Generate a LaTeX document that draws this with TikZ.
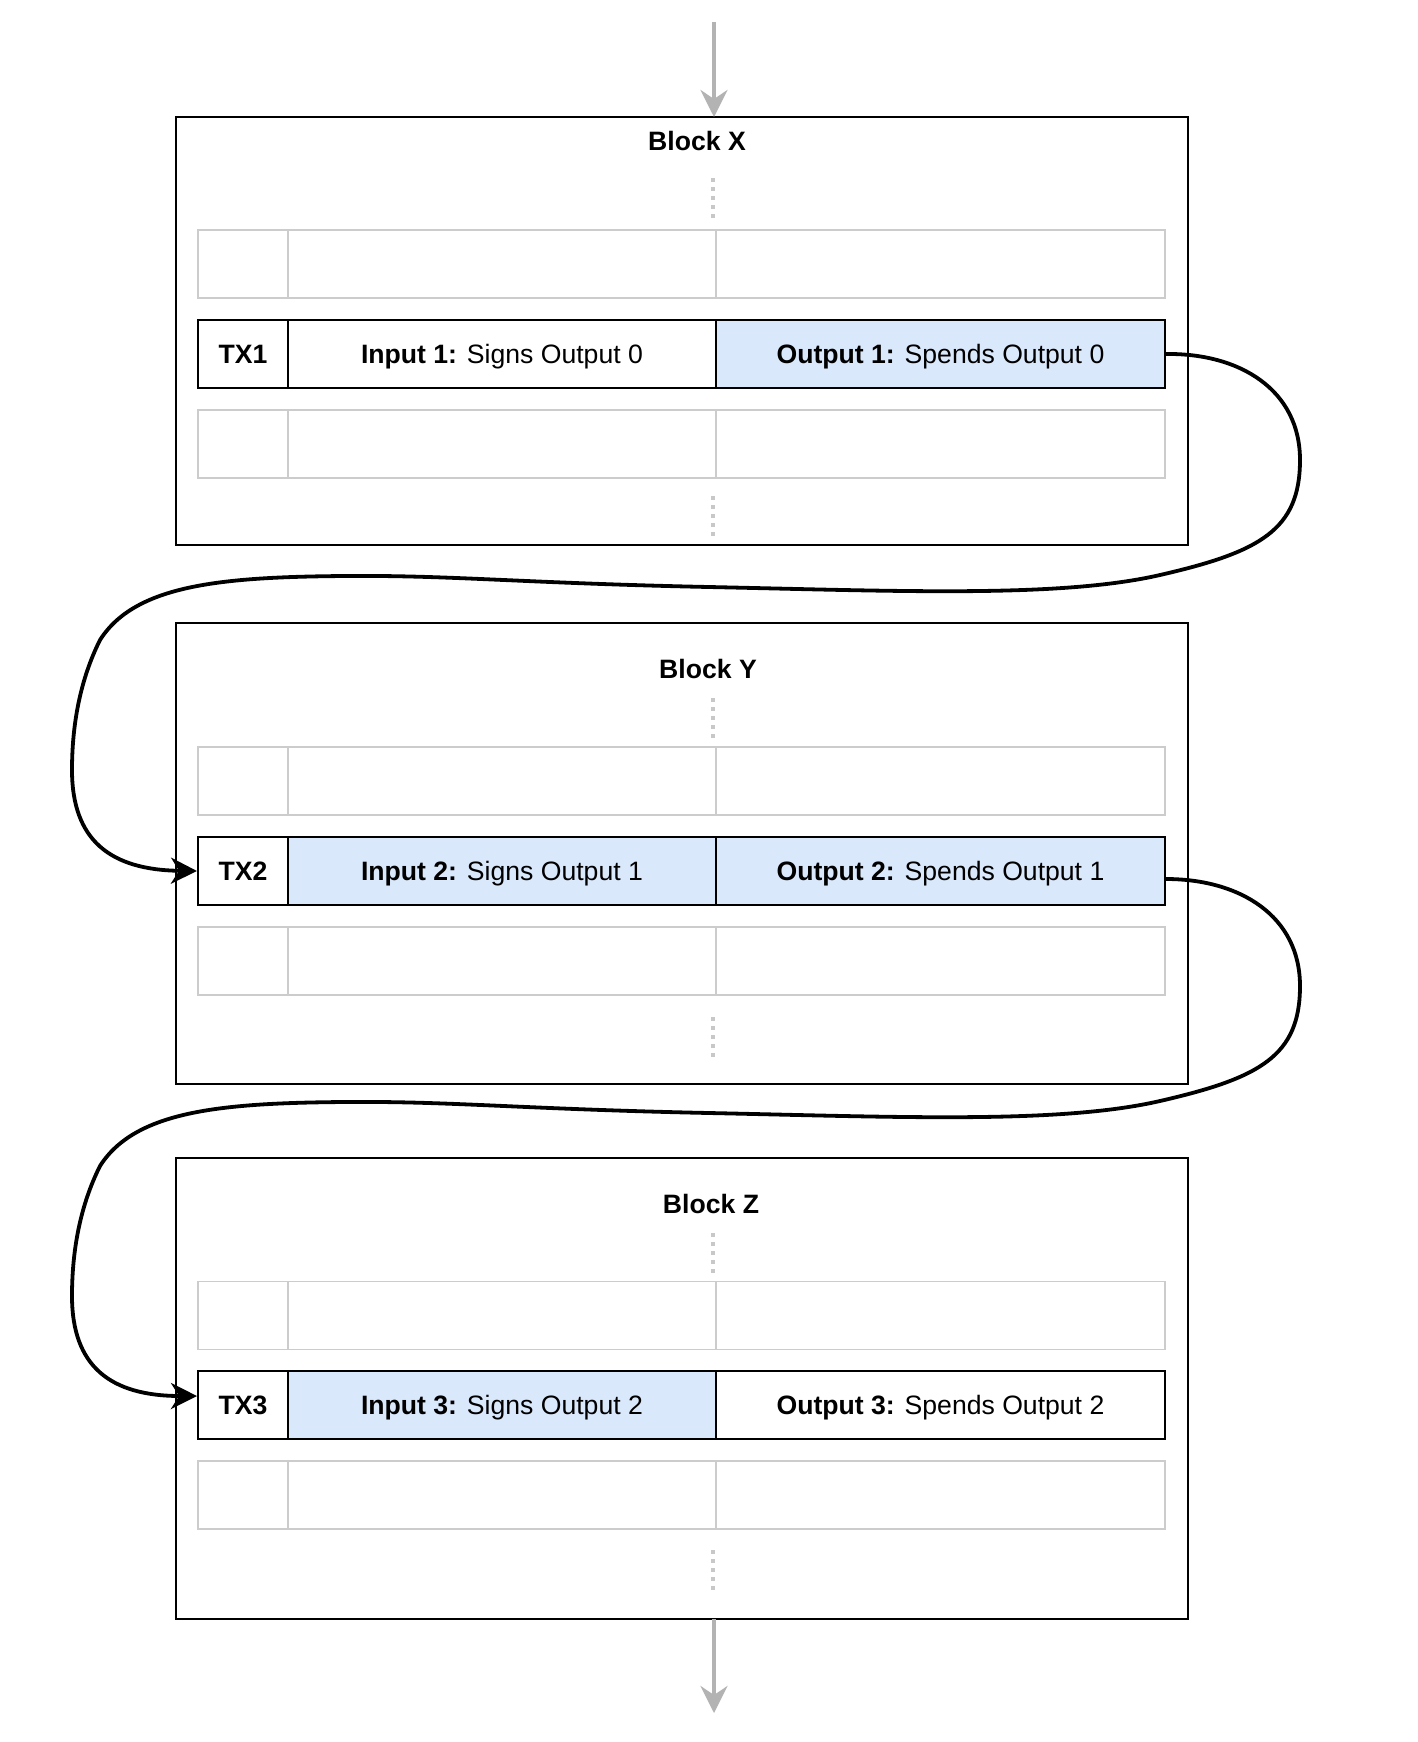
\documentclass[tikz,border=0pt]{standalone}
\usepackage{fontspec}
\setmainfont{Liberation Sans}
\usetikzlibrary{arrows.meta}
\definecolor{lblue}{HTML}{DAE8FC}
\definecolor{rowgray}{HTML}{CCCCCC}
\definecolor{arrgray}{HTML}{B3B3B3}
\definecolor{dotgray}{HTML}{C8C8C8}
\tikzset{
  blockbox/.style={draw=black, line width=1pt, fill=white, inner sep=0pt, minimum width=506pt},
  graycell/.style={draw=rowgray, line width=0.8pt, minimum height=34pt, inner sep=0pt},
  txcell/.style={draw=black, line width=1pt, minimum height=34pt, inner sep=0pt, fill=white,
    font=\fontsize{13.3}{16}\selectfont, text height=0.95em, text depth=0pt},
  titletext/.style={font=\fontsize{13.3}{16}\selectfont\bfseries, inner sep=0pt, text height=0.88em, text depth=0pt},
  dotline/.style={draw=dotgray, line width=2pt, dash pattern=on 2pt off 2.5pt},
  grayarrow/.style={draw=arrgray, line width=2pt, -{Stealth[length=13.5pt, width=13.5pt, inset=4.5pt]}},
  link/.style={draw=black, line width=1.9pt, -{Stealth[length=13pt, width=13pt, inset=4pt]}},
}
\newcommand\grayrow[2]{%
  \node[graycell, minimum width=45pt] (#1a) at (243,#2) {};
  \node[graycell, minimum width=214pt] (#1b) at (502,#2) {};
  \node[graycell, minimum width=224.5pt] (#1c) at (940.5,#2) {};}
\begin{document}
\begin{tikzpicture}[x=0.5pt, y=-0.5pt]
\fill[white] (0,0) rectangle (1418,1742);
\useasboundingbox (0,0) rectangle (1418,1742);

% ---------- Block X ----------
\node[blockbox, minimum height=214pt] (bx) at (682,331) {};
\node[titletext] (tx) at (697,142) {Block X};
\coordinate (dx1a) at (713,178); \coordinate (dx1b) at (713,218);
\draw[dotline] (dx1a) -- (dx1b);
\grayrow{xr1}{264}
\node[txcell, minimum width=45pt] (tx1) at (243,354) {\textbf{TX1}};
\node[txcell, minimum width=214pt] (in1) at (502,354) {\textbf{Input 1:} Signs Output 0};
\node[txcell, minimum width=224.5pt, fill=lblue] (o1) at (940.5,354) {\textbf{Output 1:} Spends Output 0};
\grayrow{xr3}{444}
\coordinate (dx2a) at (713,496); \coordinate (dx2b) at (713,536);
\draw[dotline] (dx2a) -- (dx2b);

% ---------- Block Y ----------
\node[blockbox, minimum height=230.5pt] (by) at (682,853.5) {};
\node[titletext] (ty) at (708,670) {Block Y};
\coordinate (dy1a) at (713,698); \coordinate (dy1b) at (713,738);
\draw[dotline] (dy1a) -- (dy1b);
\grayrow{yr1}{781}
\node[txcell, minimum width=45pt] (tx2) at (243,871) {\textbf{TX2}};
\node[txcell, minimum width=214pt, fill=lblue] (in2) at (502,871) {\textbf{Input 2:} Signs Output 1};
\node[txcell, minimum width=224.5pt, fill=lblue] (o2) at (940.5,871) {\textbf{Output 2:} Spends Output 1};
\grayrow{yr3}{961}
\coordinate (dy2a) at (713,1017); \coordinate (dy2b) at (713,1057);
\draw[dotline] (dy2a) -- (dy2b);

% ---------- Block Z ----------
\node[blockbox, minimum height=230.5pt] (bz) at (682,1388.5) {};
\node[titletext] (tz) at (711,1205) {Block Z};
\coordinate (dz1a) at (713,1233); \coordinate (dz1b) at (713,1273);
\draw[dotline] (dz1a) -- (dz1b);
\grayrow{zr1}{1315.5}
\node[txcell, minimum width=45pt] (tx3) at (243,1405) {\textbf{TX3}};
\node[txcell, minimum width=214pt, fill=lblue] (in3) at (502,1405) {\textbf{Input 3:} Signs Output 2};
\node[txcell, minimum width=224.5pt] (o3) at (940.5,1405) {\textbf{Output 3:} Spends Output 2};
\grayrow{zr3}{1495}
\coordinate (dz2a) at (713,1550); \coordinate (dz2b) at (713,1590);
\draw[dotline] (dz2a) -- (dz2b);

% ---------- gray chain arrows ----------
\coordinate (top0) at (714,22); \coordinate (top1) at (714,117);
\draw[grayarrow] (top0) -- (top1);
\coordinate (bot0) at (714,1619); \coordinate (bot1) at (714,1713);
\draw[grayarrow] (bot0) -- (bot1);

% ---------- links ----------
\draw[link] (o1.east) .. controls (1240,353) and (1300,390) .. (1300,460)
  .. controls (1300,530) and (1260,552) .. (1160,575)
  .. controls (1060,598) and (900,591) .. (709,587)
  .. controls (520,583) and (450,575) .. (344,576)
  .. controls (220,577) and (135,585) .. (100,640)
  .. controls (80,680) and (72,725) .. (72,770)
  .. controls (72,840) and (110,870) .. (tx2.west);

\draw[link] ([yshift=-4pt]o2.east) .. controls (1240,879) and (1300,916) .. (1300,986)
  .. controls (1300,1056) and (1260,1078) .. (1160,1101)
  .. controls (1060,1124) and (900,1117) .. (709,1113)
  .. controls (520,1109) and (450,1101) .. (344,1102)
  .. controls (220,1103) and (135,1111) .. (100,1166)
  .. controls (80,1206) and (72,1251) .. (72,1296)
  .. controls (72,1366) and (110,1396) .. ([yshift=4.5pt]tx3.west);
\end{tikzpicture}
\end{document}
